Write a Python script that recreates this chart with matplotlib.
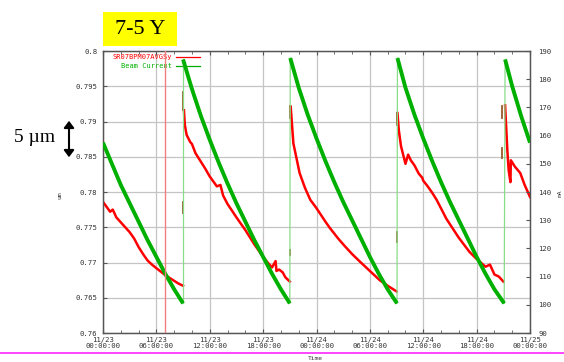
import matplotlib
matplotlib.use("Agg")
import matplotlib.pyplot as plt
from matplotlib.patches import Rectangle, FancyArrowPatch
from matplotlib.lines import Line2D

# ---------------- data ----------------
x_tick_hours = [0, 6, 12, 18, 24, 30, 36, 42, 48]
x_tick_labels = ["11/23\n00:00:00", "11/23\n06:00:00", "11/23\n12:00:00", "11/23\n18:00:00",
                 "11/24\n00:00:00", "11/24\n06:00:00", "11/24\n12:00:00", "11/24\n18:00:00",
                 "11/25\n00:00:00"]
left_ticks = [0.76, 0.765, 0.77, 0.775, 0.78, 0.785, 0.79, 0.795, 0.8]
left_labels = ["0.76", "0.765", "0.77", "0.775", "0.78", "0.785", "0.79", "0.795", "0.8"]
right_ticks = [90, 100, 110, 120, 130, 140, 150, 160, 170, 180, 190]

# Beam current (mA), hours since 11/23 00:00 -- one list per fill
green_t0 = [0, 1, 2, 3, 4, 5, 6, 7, 8, 9]
green_v0 = [157.5, 150, 142.5, 136, 129.5, 123, 117, 111, 105.5, 100.5]
green_t1 = [9, 10, 11, 12, 13, 14, 15, 16, 17, 18, 19, 20, 21]
green_v1 = [187, 176.5, 167, 158.5, 150.5, 143, 136, 129.5, 123, 117, 111, 105.5, 100.5]
green_t2 = [21.05, 22, 23, 24, 25, 26, 27, 28, 29, 30, 31, 32, 33.05]
green_v2 = [187.5, 177, 167.5, 159, 151, 143.5, 136.5, 130, 123.5, 117, 111, 105.5, 100.5]
green_t3 = [33.1, 34, 35, 36, 37, 38, 39, 40, 41, 42, 43, 44, 45.1]
green_v3 = [187.5, 177, 167.5, 159, 151, 143.5, 136.5, 130, 123.5, 117, 111, 105.5, 100.5]
green_t4 = [45.2, 46, 47, 48]
green_v4 = [187, 177.5, 167, 157.5]

# Orbit position SR07BPM07AVGSy (mm), one list per fill
red_t0 = [0, 0.4, 0.8, 1.1, 1.5, 2, 2.5, 3, 3.5, 4, 4.5, 5, 5.5, 6, 6.5, 7, 7.5, 8, 8.5, 9]
red_v0 = [0.7786, 0.7779, 0.7772, 0.7775, 0.7764, 0.7757, 0.7750, 0.7743, 0.7734, 0.7722,
          0.7712, 0.7703, 0.7697, 0.7692, 0.7687, 0.7682, 0.7678, 0.7674, 0.7670, 0.7667]
red_t1 = [9.1, 9.2, 9.4, 9.8, 10.0, 10.4, 10.9, 11.5, 12, 12.8, 13.2, 13.5, 14, 15, 16, 17,
          18, 18.5, 19, 19.4, 19.5, 19.8, 20.2, 20.5, 21]
red_v1 = [0.7916, 0.7895, 0.7881, 0.7871, 0.7868, 0.7855, 0.7845, 0.7833, 0.7822, 0.7808,
          0.7810, 0.7795, 0.7783, 0.7764, 0.7746, 0.7726, 0.7708, 0.7700, 0.7693, 0.7702,
          0.7688, 0.7690, 0.7686, 0.7679, 0.7673]
red_t2 = [21.1, 21.4, 21.8, 22.1, 22.7, 23.3, 24, 25, 25.5, 26.5, 27.2, 28, 28.9, 30, 31.1,
          32, 33]
red_v2 = [0.7921, 0.7869, 0.7845, 0.7827, 0.7806, 0.7789, 0.7777, 0.7758, 0.7749, 0.7733,
          0.7723, 0.7712, 0.7701, 0.7688, 0.7675, 0.7667, 0.7659]
red_t3 = [33.1, 33.25, 33.5, 33.8, 34.0, 34.3, 34.6, 35, 35.5, 35.9, 36.0, 36.5, 37, 37.5,
          38.6, 40, 41.2, 42, 43, 43.5, 44, 44.5, 45]
red_v3 = [0.7912, 0.7888, 0.7865, 0.7850, 0.7840, 0.7853, 0.7845, 0.7838, 0.7826, 0.7820,
          0.7816, 0.7808, 0.7799, 0.7789, 0.7762, 0.7735, 0.7715, 0.7705, 0.7694, 0.7697,
          0.7683, 0.7680, 0.7673]
red_t4 = [45.2, 45.45, 45.6, 45.8, 45.85, 46.3, 46.9, 47.4, 48]
red_v4 = [0.7923, 0.7860, 0.7831, 0.7814, 0.7845, 0.7836, 0.7827, 0.7810, 0.7793]

# short injection traces of the position signal at each refill
inj_t = [9.0, 21.0, 33.0, 44.9]
inj_hi = [(0.7942, 0.7916), (0.7922, 0.7905), (0.7912, 0.7895), (0.7922, 0.7905)]
inj_lo = [(0.7786, 0.7770), (0.7718, 0.7710), (0.7743, 0.7729), (0.7862, 0.7848)]

marker_hour = 7.0

# ---------------- figure ----------------
W, H = 564, 362
fig = plt.figure(figsize=(W / 100, H / 100), dpi=100)
L, R, T, B = 103, 530, 51, 333
ax = fig.add_axes([L / W, 1 - B / H, (R - L) / W, (B - T) / H])
ax2 = ax.twinx()

tick_font = dict(family="DejaVu Sans Mono", size=5.2)
dark = "#333333"
red = "#ff0000"
green = "#00b000"

ax.set_xlim(0, 48)
ax.set_ylim(0.76, 0.8)
ax2.set_ylim(90, 190)

ax.set_xticks(x_tick_hours)
ax.set_xticklabels(x_tick_labels, fontdict=tick_font, color=dark, linespacing=0.95)
ax.set_xticks(list(range(0, 49, 2)), minor=True)
ax.set_yticks(left_ticks)
ax.set_yticklabels(left_labels, fontdict=tick_font, color=dark)
ax2.set_yticks(right_ticks)
ax2.set_yticklabels([str(v) for v in right_ticks], fontdict=tick_font, color=dark)

ax.tick_params(axis="x", which="both", direction="in", top=True, pad=3, colors="#555555",
               labelcolor=dark)
ax.tick_params(axis="x", which="major", length=3)
ax.tick_params(axis="x", which="minor", length=2)
ax.tick_params(axis="y", direction="in", length=3, pad=4, colors="#555555", labelcolor=dark)
ax2.tick_params(axis="y", direction="in", length=3, pad=6, colors="#555555", labelcolor=dark)

ax.grid(True, which="major", color="#c4c4c4", linewidth=0.9)
ax.set_axisbelow(True)
for a in (ax, ax2):
    for s in a.spines.values():
        s.set_color("#555555")
        s.set_linewidth(0.9)

# position series (left axis)
for tt, vv in [(red_t0, red_v0), (red_t1, red_v1), (red_t2, red_v2), (red_t3, red_v3),
               (red_t4, red_v4)]:
    ax.plot(tt, vv, color=red, linewidth=1.8, solid_joinstyle="round", zorder=3)
for t, hi, lo in zip(inj_t, inj_hi, inj_lo):
    ax.plot([t, t], hi, color="#9a5a2a", linewidth=1.3, zorder=3)
    ax.plot([t, t], lo, color="#9a5a2a", linewidth=1.3, zorder=3)

# beam current series (right axis)
segs = [(green_t0, green_v0), (green_t1, green_v1), (green_t2, green_v2),
        (green_t3, green_v3), (green_t4, green_v4)]
for (ta, va), (tb, vb) in zip(segs[:-1], segs[1:]):
    ax2.plot([ta[-1], tb[0]], [va[-1], vb[0]], color="#88dd88", linewidth=0.9, zorder=2)
for tt, vv in segs:
    ax2.plot(tt, vv, color=green, linewidth=2.8, solid_capstyle="butt",
             solid_joinstyle="round", zorder=4)

# time marker
ax2.axvline(marker_hour, color="#f08080", linewidth=1.0, zorder=5)

# legend (gnuplot style)
leg_font = dict(family="DejaVu Sans Mono", size=5.0)
ax.text(0.162, 0.978, "SR07BPM07AVGSy", transform=ax.transAxes, ha="right", va="center",
        color=red, fontdict=leg_font, zorder=6)
ax.text(0.162, 0.948, "Beam Current", transform=ax.transAxes, ha="right", va="center",
        color=green, fontdict=leg_font, zorder=6)
ax.add_line(Line2D([0.171, 0.227], [0.978, 0.978], transform=ax.transAxes, color=red,
                   linewidth=0.9, zorder=6))
ax.add_line(Line2D([0.171, 0.227], [0.948, 0.948], transform=ax.transAxes, color=green,
                   linewidth=0.9, zorder=6))

# axis labels
fig.text(60 / W, 1 - 195 / H, "um", rotation=90, ha="center", va="center",
         fontdict=dict(family="DejaVu Sans Mono", size=4.5), color=dark)
fig.text(560 / W, 1 - 193 / H, "mA", rotation=90, ha="center", va="center",
         fontdict=dict(family="DejaVu Sans Mono", size=4.5), color=dark)
fig.text(315 / W, 1 - 359 / H, "Time", ha="center", va="center",
         fontdict=dict(family="DejaVu Sans Mono", size=4.5), color=dark)

# slide decorations
fig.add_artist(Line2D([0, 1], [1 - 353 / H, 1 - 353 / H], transform=fig.transFigure,
                      color="#ff44ff", linewidth=1.4))
fig.add_artist(Rectangle((103 / W, 1 - 46 / H), 74 / W, 34 / H, transform=fig.transFigure,
                         facecolor="#ffff00", edgecolor="none"))
fig.text(140 / W, 1 - 30 / H, "7-5 Y", ha="center", va="center", color="black",
         fontdict=dict(family="Liberation Serif", size=16))
fig.text(35 / W, 1 - 138 / H, "5 \u00b5m", ha="center", va="center", color="black",
         fontdict=dict(family="Liberation Serif", size=14))
fig.add_artist(FancyArrowPatch((69 / W, 1 - 160 / H), (69 / W, 1 - 118 / H),
                               transform=fig.transFigure, arrowstyle="<|-|>,head_length=4,head_width=3",
                               color="black", linewidth=1.5))

fig.savefig("out.png", dpi=100)
